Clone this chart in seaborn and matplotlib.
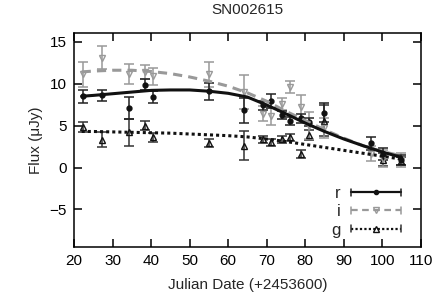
import numpy as np
import pandas as pd
import matplotlib
matplotlib.use("Agg")
import matplotlib.pyplot as plt
import seaborn as sns
from matplotlib.lines import Line2D
from matplotlib.legend_handler import HandlerBase

# ---- data ----
title = "SN002615"
bands = ["r", "i", "g"]

obs_x = [22.4, 27.3, 34.3, 38.4, 40.4, 55.1, 64.0, 69.1, 71.1, 74.0, 76.0,
         78.9, 81.0, 84.9, 97.1, 100.2, 104.9]

r_flux = [8.5, 8.6, 7.1, 9.9, 8.4, 9.1, 6.85, 7.4, 7.95, 6.3, 5.55,
          5.85, 5.45, 6.55, 2.9, 1.65, 0.85]
r_err = [0.8, 0.7, 1.3, 0.7, 0.7, 1.0, 1.5, 0.5, 0.8, 0.5, 0.5,
         0.5, 0.5, 1.1, 0.8, 0.7, 0.6]

i_flux = [11.1, 13.1, 11.2, 11.4, 10.9, 11.1, 9.0, 6.4, 6.1, 7.55, 9.6,
          7.2, 5.0, 4.7, 1.65, 1.05, 0.9]
i_err = [1.5, 1.4, 1.2, 0.8, 1.0, 1.5, 2.0, 0.9, 1.0, 0.7, 0.7,
         1.4, 1.6, 1.2, 0.9, 1.0, 0.8]

g_flux = [4.8, 3.3, 4.2, 5.0, 3.6, 2.9, 2.6, 3.35, 3.0, 3.35, 3.6,
          1.65, 3.9, 5.6, np.nan, 0.95, 0.8]
g_err = [0.6, 0.9, 1.6, 0.5, 0.5, 0.5, 1.7, 0.4, 0.4, 0.4, 0.4,
         0.5, 0.6, 1.8, np.nan, 0.8, 0.5]

curve_x = [22, 25, 30, 35, 40, 45, 50, 55, 60, 65, 70, 75, 80, 85, 90, 95, 100, 105]
r_curve = [8.5, 8.6, 8.8, 9.0, 9.2, 9.25, 9.25, 9.1, 8.85, 8.4, 7.45, 6.4,
           5.3, 4.3, 3.4, 2.6, 1.85, 1.2]
i_curve = [11.4, 11.5, 11.6, 11.6, 11.45, 11.2, 10.8, 10.3, 9.7, 8.9, 7.9, 6.7,
           5.6, 4.5, 3.5, 2.6, 1.9, 1.4]
g_curve = [4.3, 4.3, 4.25, 4.2, 4.15, 4.1, 4.0, 3.9, 3.8, 3.65, 3.4, 3.1,
           2.75, 2.4, 2.05, 1.7, 1.35, 1.0]

xticks = [20, 30, 40, 50, 60, 70, 80, 90, 100, 110]
yticks = [-5, 0, 5, 10, 15]

# ---- style ----
sns.set_style("ticks")
plt.rcParams["font.family"] = ["Liberation Sans", "DejaVu Sans"]
plt.rcParams["font.size"] = 11

fig = plt.figure(figsize=(4.36, 3.03), dpi=100)
ax = fig.add_axes([0.1697, 0.184, 0.7959, 0.706])

styles = {
    "r": dict(color="#111111", ecolor="#222222", ls="-", marker="o", mfc="#111111", ms=3.5),
    "i": dict(color="#999999", ecolor="#999999", ls=(0, (3.0, 2.0)), marker="v", mfc="none", ms=5),
    "g": dict(color="#111111", ecolor="#333333", ls=(0, (1.0, 1.0)), marker="^", mfc="none", ms=5),
}
fluxes = {"r": (r_flux, r_err, r_curve), "i": (i_flux, i_err, i_curve), "g": (g_flux, g_err, g_curve)}

curve_df = pd.DataFrame({"x": curve_x * 3,
                         "flux": r_curve + i_curve + g_curve,
                         "band": ["r"] * len(curve_x) + ["i"] * len(curve_x) + ["g"] * len(curve_x)})

for b in ["g", "i", "r"]:
    f, e, c = fluxes[b]
    st = styles[b]
    ax.errorbar(obs_x, f, yerr=e, fmt="none", ecolor=st["ecolor"], elinewidth=1.1,
                capsize=3.5, capthick=1.1, zorder=2)
    ax.plot(obs_x, f, ls="none", marker=st["marker"], mfc=st["mfc"], mec=st["color"],
            mew=1.0, ms=st["ms"], zorder=3)
    sns.lineplot(data=curve_df[curve_df["band"] == b], x="x", y="flux", ax=ax,
                 color=st["color"], lw=2.2, linestyle=st["ls"], zorder=4)

ax.set_xlim(20, 110)
ax.set_ylim(-9.5, 16)
ax.set_xticks(xticks)
ax.set_yticks(yticks)
ax.tick_params(direction="in", length=6, width=1.1, top=True, right=True,
               labelsize=11, pad=5, colors="black")
ax.tick_params(axis="y", labelright=False)
ax.tick_params(axis="x", labeltop=False)
for s in ax.spines.values():
    s.set_visible(True)
    s.set_linewidth(1.1)
    s.set_color("black")
ax.set_xlabel("Julian Date (+2453600)", fontsize=11, labelpad=7)
ax.set_ylabel("Flux (μJy)", fontsize=11, labelpad=5)
ax.set_title(title, fontsize=11, pad=14)


class CapHandler(HandlerBase):
    def create_artists(self, legend, orig_handle, xdescent, ydescent, width, height,
                       fontsize, trans):
        st = orig_handle
        y = height / 2 - ydescent
        x0, x1 = -xdescent, width - xdescent
        h = 0.3 * height
        line = Line2D([x0, x1], [y, y], color=st["color"], ls=st["ls"], lw=1.6)
        caps = Line2D([x0, x0, np.nan, x1, x1], [y - h, y + h, np.nan, y - h, y + h],
                      color=st["ecolor"], lw=1.1)
        mk = Line2D([(x0 + x1) / 2], [y], ls="none", marker=st["marker"], mfc=st["mfc"],
                    mec=st["color"], ms=st["ms"] - 0.5, mew=1.0)
        for a in (line, caps, mk):
            a.set_transform(trans)
        return [line, caps, mk]


class Key(dict):
    pass


handles = [Key(styles[b]) for b in bands]
leg = ax.legend(handles, bands, handler_map={Key: CapHandler()}, loc="lower right",
                bbox_to_anchor=(0.985, -0.025), frameon=False, markerfirst=False,
                handlelength=3.0, labelspacing=0.2, handletextpad=0.6, fontsize=12)
for t in leg.get_texts():
    t.set_ha("right")

fig.savefig("out.png", dpi=100)
